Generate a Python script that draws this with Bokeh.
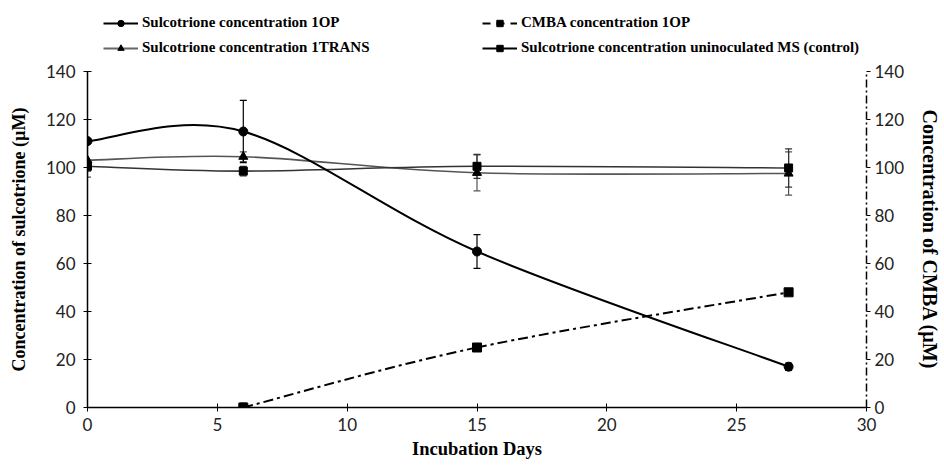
from bokeh.plotting import figure
from bokeh.layouts import column
from bokeh.models import (ColumnDataSource, Range1d, LinearAxis, Whisker, TeeHead,
                          Legend, LegendItem, FixedTicker)
from bokeh.embed import file_html
from bokeh.resources import INLINE

# ---------------- data ----------------
days = [0, 6, 15, 27]
op_conc = [111, 115, 65, 17]
op_err = [1, 13, 7, 1.5]
trans_conc = [103, 104.5, 97.8, 97.5]
trans_err = [7, 2, 7.5, 9]
ctrl_conc = [100.5, 98.5, 100.5, 99.8]
ctrl_err = [2, 2, 5, 8]
cmba_days = [6, 15, 27]
cmba_conc = [0, 25, 48]
cmba_err = [2, 0.5, 0.5]

x_ticks = [0, 5, 10, 15, 20, 25, 30]
y_ticks = [0, 20, 40, 60, 80, 100, 120, 140]

series_labels = ["Sulcotrione concentration 1OP",
                 "Sulcotrione concentration 1TRANS",
                 "CMBA concentration 1OP",
                 "Sulcotrione concentration uninoculated MS (control)"]

TICK_FONT = "Lato"
LABEL_FONT = "Liberation Serif"
GREY = "#555555"
DARK = "#333333"
NAN = float("nan")


def smooth(xs, ys):
    """Bezier segments through the points (Excel-like smoothed line)."""
    n = len(xs)
    d = dict(x0=[], y0=[], x1=[], y1=[], cx0=[], cy0=[], cx1=[], cy1=[])
    for i in range(n - 1):
        a = i - 1 if i > 0 else i
        b = i + 2 if i + 2 < n else i + 1
        d["x0"].append(xs[i]); d["y0"].append(ys[i])
        d["x1"].append(xs[i + 1]); d["y1"].append(ys[i + 1])
        d["cx0"].append(xs[i] + (xs[i + 1] - xs[a]) / 6)
        d["cy0"].append(ys[i] + (ys[i + 1] - ys[a]) / 6)
        d["cx1"].append(xs[i + 1] - (xs[b] - xs[i]) / 6)
        d["cy1"].append(ys[i + 1] - (ys[b] - ys[i]) / 6)
    return ColumnDataSource(d)


def err_source(xs, ys, es):
    return ColumnDataSource(dict(x=xs, y=ys,
                                 lo=[v - e for v, e in zip(ys, es)],
                                 hi=[v + e for v, e in zip(ys, es)]))


# ---------------- main chart ----------------
p = figure(width=944, height=405, output_backend="svg", toolbar_location=None,
           x_range=Range1d(0, 30), y_range=Range1d(0, 140),
           min_border_left=87, min_border_right=75, min_border_top=11,
           min_border_bottom=58)
p.extra_y_ranges = {"right": Range1d(0, 140)}
p.xgrid.visible = False
p.ygrid.visible = False
p.outline_line_color = None
p.background_fill_color = "white"
p.border_fill_color = "white"

for ax in [p.xaxis[0], p.yaxis[0]]:
    ax.major_tick_in = 4
    ax.major_tick_out = 4
    ax.minor_tick_line_color = None
    ax.axis_line_color = "black"
    ax.axis_line_width = 1.5
    ax.major_tick_line_color = "black"
    ax.major_label_text_font = TICK_FONT
    ax.major_label_text_font_size = "17px"
    ax.major_label_text_color = "#222222"
    ax.axis_label_text_font = LABEL_FONT
    ax.axis_label_text_font_style = "bold"
    ax.axis_label_text_color = "black"

p.xaxis[0].ticker = FixedTicker(ticks=x_ticks)
p.yaxis[0].ticker = FixedTicker(ticks=y_ticks)
p.xaxis[0].axis_label = "Incubation Days"
p.yaxis[0].axis_label = "Concentration of sulcotrione (\u00b5M)"
p.xaxis[0].axis_label_text_font_size = "18.5px"
p.yaxis[0].axis_label_text_font_size = "18px"
p.xaxis[0].major_label_standoff = 6
p.xaxis[0].axis_label_standoff = 5
p.yaxis[0].major_label_standoff = 8
p.yaxis[0].axis_label_standoff = 14

ax_r = LinearAxis(y_range_name="right", ticker=FixedTicker(ticks=y_ticks),
                  axis_label="Concentration of CMBA (\u00b5M)")
ax_r.major_tick_in = 0
ax_r.major_tick_out = 4
ax_r.minor_tick_line_color = None
ax_r.axis_line_color = "black"
ax_r.axis_line_width = 1.5
ax_r.axis_line_dash = "8 3 2 3"
ax_r.major_tick_line_color = "black"
ax_r.major_label_text_font = TICK_FONT
ax_r.major_label_text_font_size = "17px"
ax_r.major_label_text_color = "#222222"
ax_r.major_label_standoff = 4
ax_r.axis_label_text_font = LABEL_FONT
ax_r.axis_label_text_font_style = "bold"
ax_r.axis_label_text_font_size = "20px"
ax_r.axis_label_text_color = "black"
ax_r.axis_label_standoff = 12
p.add_layout(ax_r, "right")

src_op = err_source(days, op_conc, op_err)
src_tr = err_source(days, trans_conc, trans_err)
src_ct = err_source(days, ctrl_conc, ctrl_err)
src_cm = err_source(cmba_days, cmba_conc, cmba_err)

for src, col, rng in [(src_tr, GREY, "default"), (src_ct, DARK, "default"),
                      (src_op, "black", "default"), (src_cm, "#888888", "right")]:
    w = Whisker(source=src, base="x", upper="hi", lower="lo", line_color=col,
                line_width=1.2, y_range_name=rng,
                upper_head=TeeHead(size=7, line_color=col, line_width=1.2),
                lower_head=TeeHead(size=7, line_color=col, line_width=1.2))
    p.add_layout(w)

bz = dict(x0="x0", y0="y0", x1="x1", y1="y1", cx0="cx0", cy0="cy0",
          cx1="cx1", cy1="cy1")
p.bezier(source=smooth(days, trans_conc), line_color=GREY, line_width=1.6, **bz)
p.bezier(source=smooth(days, ctrl_conc), line_color=DARK, line_width=1.6, **bz)
p.bezier(source=smooth(cmba_days, cmba_conc), line_color="black", line_width=2,
         line_dash="10 4 3 4", y_range_name="right", **bz)
p.bezier(source=smooth(days, op_conc), line_color="black", line_width=2, **bz)

p.scatter("x", "y", source=src_tr, marker="triangle", size=9, color="black")
p.scatter("x", "y", source=src_ct, marker="square", size=8, color="black")
p.scatter("x", "y", source=src_cm, marker="square", size=9, color="black",
          y_range_name="right")
p.scatter("x", "y", source=src_op, marker="circle", size=9, color="black")

# ---------------- legend strip ----------------
lf = figure(width=944, height=60, output_backend="svg", toolbar_location=None,
            x_range=Range1d(0, 1), y_range=Range1d(0, 1),
            x_axis_location=None, y_axis_location=None,
            min_border_left=0, min_border_right=0, min_border_top=0,
            min_border_bottom=0)
lf.xgrid.visible = False
lf.ygrid.visible = False
lf.outline_line_color = None
lf.background_fill_color = "white"
lf.border_fill_color = "white"

# proxy glyphs (no visible data) that only provide the legend symbols
g_op = [lf.line([NAN], [NAN], line_color="black", line_width=2),
        lf.scatter([NAN], [NAN], marker="circle", size=9, color="black")]
g_tr = [lf.line([NAN], [NAN], line_color="#666666", line_width=2),
        lf.scatter([NAN], [NAN], marker="triangle", size=9, color="black")]
g_cm = [lf.line([NAN], [NAN], line_color="black", line_width=2, line_dash="8 6"),
        lf.scatter([NAN], [NAN], marker="square", size=9, color="black")]
g_ct = [lf.line([NAN], [NAN], line_color="black", line_width=2),
        lf.scatter([NAN], [NAN], marker="square", size=8, color="black")]


def make_legend(items, x):
    return Legend(items=items, location=(x, 4), orientation="vertical",
                  glyph_width=35, glyph_height=16, label_height=16,
                  label_standoff=4, spacing=8, padding=0, margin=0,
                  border_line_color=None, background_fill_alpha=0,
                  label_text_font=LABEL_FONT, label_text_font_style="bold",
                  label_text_font_size="15px", label_text_color="black")


lf.add_layout(make_legend([LegendItem(label=series_labels[0], renderers=g_op),
                           LegendItem(label=series_labels[1], renderers=g_tr)], 16))
lf.add_layout(make_legend([LegendItem(label=series_labels[2], renderers=g_cm),
                           LegendItem(label=series_labels[3], renderers=g_ct)], 395))

layout = column(lf, p, spacing=0)
open("out.html", "w").write(file_html(layout, INLINE))
